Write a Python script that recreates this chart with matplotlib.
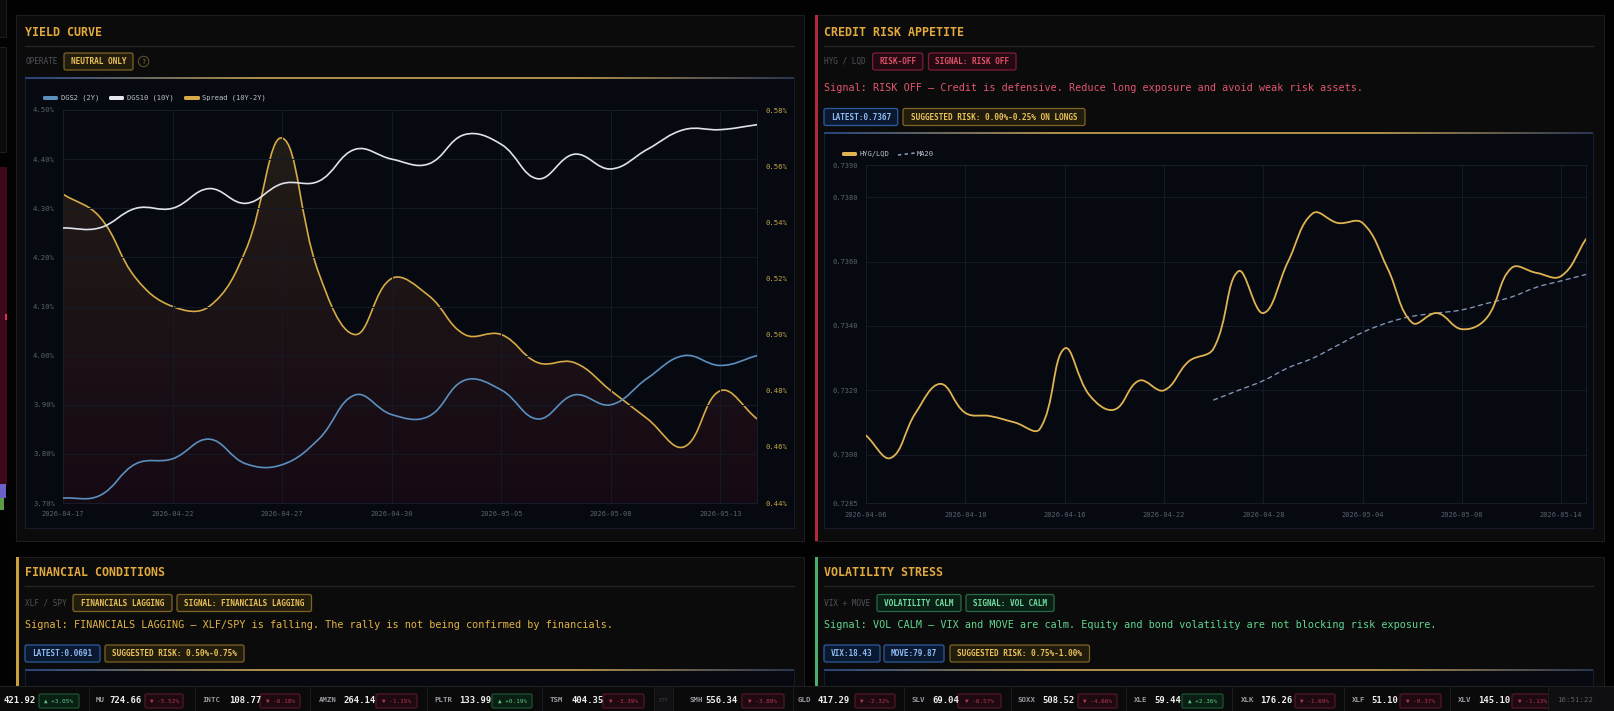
"""Macro dashboard (yield curve / credit risk / bottom panels) rebuilt from a screenshot."""

import numpy as np
import matplotlib
matplotlib.use('Agg')
import matplotlib.pyplot as plt
from matplotlib.path import Path
from matplotlib.patches import PathPatch, Rectangle, FancyBboxPatch, Circle
from matplotlib.collections import LineCollection

plt.rcParams['font.family'] = ['DejaVu Sans Mono', 'DejaVu Sans']

W, H = 1614, 711

# ---- Yield curve (business days) ----
yc_dates = ['2026-04-17', '2026-04-20', '2026-04-21', '2026-04-22', '2026-04-23',
            '2026-04-24', '2026-04-27', '2026-04-28', '2026-04-29', '2026-04-30',
            '2026-05-01', '2026-05-04', '2026-05-05', '2026-05-06', '2026-05-07',
            '2026-05-08', '2026-05-11', '2026-05-12', '2026-05-13', '2026-05-14']
dgs2 = [3.71, 3.715, 3.78, 3.79, 3.83, 3.78, 3.778, 3.83, 3.92, 3.88,
        3.876, 3.95, 3.93, 3.871, 3.92, 3.90, 3.954, 4.00, 3.98, 4.00]
dgs10 = [4.26, 4.26, 4.30, 4.30, 4.34, 4.31, 4.35, 4.355, 4.42, 4.40,
         4.39, 4.45, 4.43, 4.36, 4.41, 4.38, 4.42, 4.46, 4.46, 4.47]
spread = [0.55, 0.542, 0.52, 0.51, 0.51, 0.53, 0.57, 0.522, 0.50, 0.52,
          0.514, 0.50, 0.50, 0.49, 0.49, 0.48, 0.47, 0.46, 0.48, 0.47]

# ---- Credit risk appetite ----
cr_dates = ['2026-04-06', '2026-04-07', '2026-04-08', '2026-04-09', '2026-04-10',
            '2026-04-13', '2026-04-14', '2026-04-15', '2026-04-16', '2026-04-17',
            '2026-04-20', '2026-04-21', '2026-04-22', '2026-04-23', '2026-04-24',
            '2026-04-27', '2026-04-28', '2026-04-29', '2026-04-30', '2026-05-01',
            '2026-05-04', '2026-05-05', '2026-05-06', '2026-05-07', '2026-05-08',
            '2026-05-11', '2026-05-12', '2026-05-13', '2026-05-14', '2026-05-15']
hyg_lqd = [0.7306, 0.7299, 0.7313, 0.7322, 0.7313, 0.7312, 0.7310, 0.7308, 0.7333, 0.73185,
           0.7314, 0.7323, 0.7320, 0.7329, 0.7333, 0.7357, 0.7344, 0.7360, 0.7375, 0.7372,
           0.7372, 0.7358, 0.7341, 0.7344, 0.7339, 0.73425, 0.7358, 0.73565, 0.73555, 0.7367]
ma20 = [np.nan] * 14 + [0.7317, 0.7320, 0.7323, 0.7327, 0.7330, 0.7334, 0.7338, 0.7341,
                        0.7343, 0.7344, 0.7345, 0.7347, 0.7349, 0.7352, 0.7354, 0.7356]
cr_yticks = [0.7285, 0.7300, 0.7320, 0.7340, 0.7360, 0.7380, 0.7390]

# ---- Ticker strip ----
tk_syms = ['', 'MU', 'INTC', 'AMZN', 'PLTR', 'TSM', 'SMH', 'GLD', 'SLV', 'SOXX', 'XLE', 'XLK', 'XLF', 'XLV']
tk_prices = ['421.92', '724.66', '108.77', '264.14', '133.99', '404.35', '556.34', '417.29',
             '69.04', '508.52', '59.44', '176.26', '51.10', '145.10']
tk_chg = [3.05, -5.52, -6.18, -1.15, 0.19, -3.39, -3.88, -2.32, -6.57, -4.66, 2.36, -1.69, -0.37, -1.13]
# layout (pixels): symbol x, price x, badge x0, badge x1
tk_sym_x = [-30, 96, 202, 319, 434, 550, 689, 798, 911, 1018, 1134, 1241, 1352, 1458]
tk_price_x = [4, 109, 229, 343, 459, 572, 705, 818, 932, 1042, 1154, 1260, 1371, 1478]
tk_badge_x = [(39, 79), (145, 183), (260, 300), (376, 417), (492, 532), (603, 644), (742, 784),
              (855, 895), (958, 1001), (1078, 1117), (1182, 1223), (1295, 1335), (1400, 1441), (1512, 1552)]
tk_dividers = [89, 195, 310, 427, 542, 654, 673, 793, 904, 1011, 1126, 1232, 1344, 1450]

STY = {
    'gold': ('#7d6424', '#221c0c', '#e9c25a'),
    'red': ('#7b1e33', '#230a12', '#e2506b'),
    'green': ('#2a6a45', '#0a2015', '#72dca0'),
    'blue': ('#2d5b9c', '#0a1830', '#8ebaf2'),
}
TITLE = '#e2a93c'
TICK = '#5b6170'
GRID = '#141a27'

fig = plt.figure(figsize=(W / 100, H / 100), dpi=100, facecolor='#020203')
bg = fig.add_axes([0, 0, 1, 1])
bg.set_xlim(0, W)
bg.set_ylim(H, 0)
bg.axis('off')


def axrect(x0, y0, x1, y1):
    return [x0 / W, 1 - y1 / H, (x1 - x0) / W, (y1 - y0) / H]


def grad_line(x0, x1, y):
    n = 240
    xs = np.linspace(x0, x1, n + 1)
    segs = [[(xs[i], y), (xs[i + 1], y)] for i in range(n)]
    t = np.linspace(0, 1, n)
    pos = [0, 0.3, 0.72, 1]
    rgb = [(0.16, 0.28, 0.52), (0.74, 0.60, 0.30), (0.74, 0.60, 0.30), (0.18, 0.22, 0.34)]
    cols = np.column_stack([np.interp(t, pos, [c[k] for c in rgb]) for k in range(3)])
    bg.add_collection(LineCollection(segs, colors=cols, linewidths=1.3))


def panel(x0, y0, x1, y1, accent=None):
    bg.add_patch(Rectangle((x0, y0), x1 - x0, y1 - y0, fc='#0b0b0c', ec='#1d1d20', lw=0.8))
    if accent:
        bg.add_patch(Rectangle((x0, y0), 3, y1 - y0, fc=accent, ec='none'))


def chart_box(x0, y0, x1, y1):
    bg.add_patch(Rectangle((x0, y0), x1 - x0, y1 - y0, fc='#060910', ec='#161c2a', lw=0.8))
    grad_line(x0, x1, y0)


def badge(x0, x1, yc, text, style, h=17, fs=5.6):
    e, f, c = STY[style]
    bg.add_patch(FancyBboxPatch((x0, yc - h / 2), x1 - x0, h, boxstyle='round,pad=0,rounding_size=2',
                                fc=f, ec=e, lw=0.9))
    bg.text((x0 + x1) / 2, yc, text, color=c, fontsize=fs, fontweight='bold', ha='center', va='center')


def header(x, y_title, title, sep_x1):
    bg.text(x, y_title, title, color=TITLE, fontsize=8.4, fontweight='bold', va='center')
    bg.plot([x, sep_x1], [y_title + 13, y_title + 13], color='#27251d', lw=0.9)


def spline_path(xs, ys, sx, sy, t=0.4):
    # bezier control points as Chart.js computes them (tension 0.4)
    P = np.column_stack([xs, ys]).astype(float)
    P = P[~np.isnan(P[:, 1])]
    Q = P * [sx, sy]
    n = len(P)
    cin = np.empty_like(P)
    cout = np.empty_like(P)
    for i in range(n):
        a, b = max(i - 1, 0), min(i + 1, n - 1)
        d01 = np.hypot(*(Q[i] - Q[a]))
        d12 = np.hypot(*(Q[b] - Q[i]))
        s = d01 + d12
        fa = t * d01 / s if s else 0
        fb = t * d12 / s if s else 0
        cin[i] = P[i] - fa * (P[b] - P[a])
        cout[i] = P[i] + fb * (P[b] - P[a])
    verts = [P[0]]
    codes = [Path.MOVETO]
    for i in range(n - 1):
        verts += [cout[i], cin[i + 1], P[i + 1]]
        codes += [Path.CURVE4] * 3
    return np.array(verts), codes, P


def smooth_line(ax, xs, ys, sx, sy, color, lw=1.2, ls='-', z=3):
    v, c, _ = spline_path(xs, ys, sx, sy)
    ax.add_patch(PathPatch(Path(v, c), fill=False, ec=color, lw=lw, ls=ls, zorder=z,
                           capstyle='round', joinstyle='round'))


# ---- left edge sliver (neighbouring panels) ----
bg.add_patch(Rectangle((-5, -5), 11, 42, fc='#0b0b0c', ec='#1d1d20', lw=0.8))
bg.add_patch(Rectangle((-5, 47), 11, 105, fc='#0b0b0c', ec='#1d1d20', lw=0.8))
bg.add_patch(Rectangle((-5, 167), 12, 318, fc='#3e0a1b', ec='none'))
bg.add_patch(Rectangle((-5, 484), 11, 14, fc='#6a62c8', ec='none'))
bg.add_patch(Rectangle((-5, 498), 9, 12, fc='#5a9a48', ec='none'))
bg.add_patch(Rectangle((5, 314), 2, 6, fc='#e03050', ec='none'))

# ---- panels ----
panel(15.5, 15, 804, 541)
panel(815, 15, 1604, 541, accent='#b3283d')
panel(15.5, 557, 804, 760, accent='#c9a03a')
panel(815, 557, 1604, 760, accent='#4cae6c')

# Yield curve header
header(25, 33, 'YIELD CURVE', 794)
bg.text(25, 61, 'OPERATE', color='#4f5258', fontsize=5.6, va='center')
badge(64, 133, 61.5, 'NEUTRAL ONLY', 'gold')
bg.add_patch(Circle((143.6, 61.5), 5.2, fc='none', ec='#5e5028', lw=0.8))
bg.text(143.6, 61.5, '?', color='#8a7a48', fontsize=5, ha='center', va='center')
chart_box(25, 78, 794, 528)

# Credit header
header(824, 33, 'CREDIT RISK APPETITE', 1593)
bg.text(824, 61, 'HYG / LQD', color='#4f5258', fontsize=5.6, va='center')
badge(872.6, 922.8, 61.5, 'RISK-OFF', 'red')
badge(928.5, 1016, 61.5, 'SIGNAL: RISK OFF', 'red')
bg.text(824, 88, 'Signal: RISK OFF \u2014 Credit is defensive. Reduce long exposure and avoid weak risk assets.',
        color='#e0566f', fontsize=7.3, va='center')
badge(824, 897.7, 117, 'LATEST:0.7367', 'blue')
badge(903, 1085, 117, 'SUGGESTED RISK: 0.00%-0.25% ON LONGS', 'gold')
chart_box(824, 133, 1593, 528)

# Financial conditions
header(25, 573, 'FINANCIAL CONDITIONS', 794)
bg.text(25, 603, 'XLF / SPY', color='#4f5258', fontsize=5.6, va='center')
badge(73, 172, 603, 'FINANCIALS LAGGING', 'gold')
badge(177, 311.5, 603, 'SIGNAL: FINANCIALS LAGGING', 'gold')
bg.text(25, 625, 'Signal: FINANCIALS LAGGING \u2014 XLF/SPY is falling. The rally is not being confirmed by financials.',
        color='#e3b344', fontsize=7.3, va='center')
badge(25, 100, 653.5, 'LATEST:0.0691', 'blue')
badge(105, 244, 653.5, 'SUGGESTED RISK: 0.50%-0.75%', 'gold')
chart_box(25, 670, 794, 760)

# Volatility stress
header(824, 573, 'VOLATILITY STRESS', 1593)
bg.text(824, 603, 'VIX + MOVE', color='#4f5258', fontsize=5.6, va='center')
badge(877, 961, 603, 'VOLATILITY CALM', 'green')
badge(966, 1054, 603, 'SIGNAL: VOL CALM', 'green')
bg.text(824, 625, 'Signal: VOL CALM \u2014 VIX and MOVE are calm. Equity and bond volatility are not blocking risk exposure.',
        color='#5fd58e', fontsize=7.3, va='center')
badge(824, 880, 653.5, 'VIX:18.43', 'blue')
badge(884, 944, 653.5, 'MOVE:79.87', 'blue')
badge(950, 1089.5, 653.5, 'SUGGESTED RISK: 0.75%-1.00%', 'gold')
chart_box(824, 670, 1593, 760)

# ---- legends ----
def legend_bar(x0, x1, y, color):
    bg.add_patch(FancyBboxPatch((x0, y - 2), x1 - x0, 4, boxstyle='round,pad=0,rounding_size=1.5',
                                fc=color, ec='none'))


LEG = '#bfc3cc'
legend_bar(43, 58, 98, '#5b8fbf')
bg.text(61, 98, 'DGS2 (2Y)', color=LEG, fontsize=5.1, va='center')
legend_bar(109, 124, 98, '#e4e7ee')
bg.text(127, 98, 'DGS10 (10Y)', color=LEG, fontsize=5.1, va='center')
legend_bar(184, 200, 98, '#d6aa45')
bg.text(202, 98, 'Spread (10Y-2Y)', color=LEG, fontsize=5.1, va='center')

legend_bar(842, 857, 154, '#e0b352')
bg.text(860, 154, 'HYG/LQD', color=LEG, fontsize=5.1, va='center')
bg.plot([898, 915], [155, 153], color='#8196b6', lw=1.2, ls=(0, (2, 2)))
bg.text(917, 154, 'MA20', color=LEG, fontsize=5.1, va='center')

# ---- ticker strip ----
bg.add_patch(Rectangle((0, 686), W, 30, fc='#0a0a0b', ec='none'))
bg.plot([0, W], [686, 686], color='#1f1f23', lw=0.8)
bg.add_patch(Rectangle((654, 686), 19, 30, fc='#101012', ec='none'))
bg.text(663.5, 700.5, 'ETF', color='#3a3a40', fontsize=4.2, ha='center', va='center')
for xd in tk_dividers:
    bg.plot([xd, xd], [686, 711], color='#1c1c20', lw=0.8)
for sym, price, chg, xs_, xp, (b0, b1) in zip(tk_syms, tk_prices, tk_chg, tk_sym_x, tk_price_x, tk_badge_x):
    bg.text(xs_, 700.5, sym, color='#9a9aa2', fontsize=5.3, fontweight='bold', va='center')
    bg.text(xp, 700.5, price, color='#eeeeef', fontsize=6.4, fontweight='bold', va='center')
    up = chg >= 0
    e, f, c = ('#1f5a35', '#0b2014', '#58c983') if up else ('#5a1a26', '#1e0910', '#b83a52')
    bg.add_patch(FancyBboxPatch((b0, 694), b1 - b0, 14, boxstyle='round,pad=0,rounding_size=1.5',
                                fc=f, ec=e, lw=0.8))
    bg.text((b0 + b1) / 2, 701, ('\u25b2 ' if up else '\u25bc ') + f'{chg:+.2f}%', color=c,
            fontsize=4.3, ha='center', va='center')
bg.add_patch(Rectangle((1548, 686), 70, 30, fc='#0f0f11', ec='none'))
bg.plot([1548, 1548], [686, 711], color='#1c1c20', lw=0.8)
bg.text(1557, 700.5, '16:51:22', color='#5e5e66', fontsize=5.3, va='center')

# ---- yield curve chart ----
x0, y0, x1, y1 = 63, 110, 757, 503
idx = np.arange(len(yc_dates))
sx = (x1 - x0) / (len(yc_dates) - 1)

axr = fig.add_axes(axrect(x0, y0, x1, y1))
axr.set_facecolor('none')
v, c, P = spline_path(idx, spread, sx, (y1 - y0) / 0.14)
fv = np.vstack([v, [[P[-1, 0], 0.44], [P[0, 0], 0.44], [P[0, 0], 0.44]]])
fc = c + [Path.LINETO, Path.LINETO, Path.CLOSEPOLY]
grad = np.zeros((256, 1, 4))
tt = np.linspace(0, 1, 256)
grad[:, 0, 0] = np.interp(tt, [0, 1], [0.80, 0.55])
grad[:, 0, 1] = np.interp(tt, [0, 1], [0.62, 0.06])
grad[:, 0, 2] = np.interp(tt, [0, 1], [0.25, 0.22])
grad[:, 0, 3] = np.interp(tt, [0, 1], [0.15, 0.12])
im = axr.imshow(grad, extent=[0, 19, 0.44, 0.58], aspect='auto', origin='upper', zorder=1,
                interpolation='bilinear')
clip = PathPatch(Path(fv, fc), fc='none', ec='none', transform=axr.transData)
axr.add_patch(clip)
im.set_clip_path(clip)
smooth_line(axr, idx, spread, sx, (y1 - y0) / 0.14, '#d6aa45', lw=1.2)
axr.set_xlim(0, 19)
axr.set_ylim(0.44, 0.58)
axr.set_xticks([])
rt = np.round(np.arange(0.44, 0.5801, 0.02), 2)
axr.yaxis.tick_right()
axr.set_yticks(rt)
axr.set_yticklabels([f'{t:.2f}%' for t in rt])
axr.tick_params(axis='y', length=0, pad=5.8, labelsize=5.2, labelcolor='#c9a34a')
for s in axr.spines.values():
    s.set_visible(False)

axl = fig.add_axes(axrect(x0, y0, x1, y1))
axl.set_facecolor('none')
sy = (y1 - y0) / 0.8
smooth_line(axl, idx, dgs2, sx, sy, '#5b8fbf', lw=1.2)
smooth_line(axl, idx, dgs10, sx, sy, '#dfe2ea', lw=1.2)
axl.set_xlim(0, 19)
axl.set_ylim(3.70, 4.50)
lt = np.round(np.arange(3.70, 4.5001, 0.10), 2)
axl.set_yticks(lt)
axl.set_yticklabels([f'{t:.2f}%' for t in lt])
axl.set_xticks(idx[::3])
axl.set_xticklabels(yc_dates[::3])
axl.tick_params(axis='y', length=0, pad=5.8, labelsize=5.2, labelcolor=TICK)
axl.tick_params(axis='x', length=0, pad=5.5, labelsize=5.0, labelcolor=TICK)
axl.grid(True, color=GRID, lw=0.7)
for s in axl.spines.values():
    s.set_color('#171d2a')
    s.set_linewidth(0.7)

# ---- credit risk chart ----
x0, y0, x1, y1 = 866, 165, 1586, 503
cidx = np.arange(len(cr_dates))
sx = (x1 - x0) / (len(cr_dates) - 1)
sy = (y1 - y0) / (0.7390 - 0.7285)
axc = fig.add_axes(axrect(x0, y0, x1, y1))
axc.set_facecolor('none')
smooth_line(axc, cidx, np.array(ma20), sx, sy, '#7f93b3', lw=1.0, ls=(0, (3, 3)))
smooth_line(axc, cidx, hyg_lqd, sx, sy, '#e0b352', lw=1.3)
axc.set_xlim(0, len(cr_dates) - 1)
axc.set_ylim(0.7285, 0.7390)
axc.set_yticks(cr_yticks)
axc.set_yticklabels([f'{t:.4f}' for t in cr_yticks])
axc.set_xticks(cidx[::4])
axc.set_xticklabels(cr_dates[::4])
axc.tick_params(axis='y', length=0, pad=6, labelsize=5.0, labelcolor=TICK)
axc.tick_params(axis='x', length=0, pad=6.5, labelsize=5.0, labelcolor=TICK)
axc.grid(True, color=GRID, lw=0.7)
for s in axc.spines.values():
    s.set_color('#171d2a')
    s.set_linewidth(0.7)

fig.savefig('out.png', dpi=100, facecolor=fig.get_facecolor())
